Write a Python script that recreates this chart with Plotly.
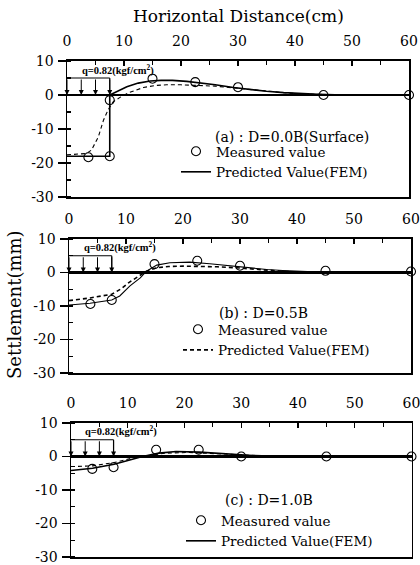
import plotly.graph_objects as go

# ---------------- data ----------------
x_ticks = [0, 10, 20, 30, 40, 50, 60]
x_tick_labels = ["0", "10", "20", "30", "40", "50", "60"]
y_ticks = [10, 0, -10, -20, -30]
y_tick_labels = ["10", "0", "-10", "-20", "-30"]

load_x = [0, 2.5, 5, 7.5]
load_top = 5
load_label = "q=0.82(kgf/cm<sup>2</sup>)"

# (a) D = 0.0B (Surface)
a_meas_x = [3.75, 7.5, 7.5, 15, 22.5, 30, 45, 60]
a_meas_y = [-18.3, -18.0, -1.5, 4.8, 3.8, 2.3, 0.0, 0.0]
a_fem_x = [0, 7.5, 7.5, 9, 10.5, 12.5, 14.6, 16.5, 18.5, 21, 23.3, 26, 29.2, 32, 35, 38, 41, 44, 47, 50, 55, 60]
a_fem_y = [-18, -18, 0, 1.3, 2.4, 3.5, 4.1, 4.3, 4.3, 4.0, 3.6, 3.0, 2.2, 1.6, 1.1, 0.7, 0.4, 0.2, 0.05, 0, 0, 0]
a_alt_x = [0, 3.4, 4.3, 5.5, 6.4, 7.2, 8.1, 9.3, 11, 13.4, 15.5, 17.5, 20, 23.3, 26, 29.2, 32, 35, 38, 41, 45, 50, 60]
a_alt_y = [-17.6, -17.2, -16.2, -12.3, -7.4, -4.4, -2.0, -0.7, 0.8, 2.2, 2.8, 3.0, 3.0, 2.9, 2.6, 2.1, 1.6, 1.2, 0.7, 0.3, 0.1, 0, 0]

# (b) D = 0.5B
b_meas_x = [3.75, 7.5, 15, 22.5, 30, 45, 60]
b_meas_y = [-9.4, -8.2, 2.5, 3.5, 2.0, 0.5, 0.3]
b_fem_x = [0, 3.7, 7.5, 9.2, 10.5, 11.8, 13.6, 15.4, 17.5, 20, 23, 26, 29.4, 32, 35, 38, 41, 45, 50, 60]
b_fem_y = [-8.4, -7.6, -6.5, -4.8, -3.0, -1.6, 0.4, 1.4, 1.8, 1.9, 1.9, 1.7, 1.4, 1.0, 0.6, 0.3, 0.1, 0, 0, 0]
b_alt_x = [0, 3.7, 7.5, 8.9, 10.7, 12.5, 13.6, 15.4, 17.7, 21.2, 24.7, 29.4, 32, 34.7, 37.5, 40.5, 44, 50, 60]
b_alt_y = [-9.7, -9.2, -8.2, -7.0, -4.0, -1.6, 0.4, 2.2, 2.9, 3.1, 2.6, 1.7, 1.2, 0.9, 0.6, 0.4, 0.1, 0, 0]

# (c) D = 1.0B
c_meas_x = [3.75, 7.5, 15, 22.5, 30, 45, 60]
c_meas_y = [-3.7, -3.2, 2.0, 2.0, 0.0, 0.0, 0.0]
c_fem_x = [0, 3.8, 7.6, 10.3, 12.6, 15.5, 18.5, 22.6, 25, 28.4, 32, 35, 40, 50, 60]
c_fem_y = [-4.2, -3.5, -2.3, -1.0, 0.0, 1.0, 1.5, 1.3, 1.0, 0.7, 0.3, 0.1, 0, 0, 0]
c_alt_x = [0, 3.8, 7.6, 10.8, 13.3, 16.7, 20.8, 26.6, 30, 35, 40, 60]
c_alt_y = [-3.0, -2.8, -1.8, -0.5, 0.2, 1.0, 1.2, 0.9, 0.5, 0.1, 0, 0]

captions = ["(a) : D=0.0B(Surface)", "(b) : D=0.5B", "(c) : D=1.0B"]
fem_dash = ["solid", "4px,3px", "solid"]
alt_dash = ["4px,3px", "solid", "4px,3px"]

# ---------------- layout geometry ----------------
W, H = 420, 565


def fx(px):
    return px / W


def fy(py):
    return (H - py) / H


x_px = [(67, 409), (69, 411), (71, 411.5)]
y_px = [(61, 197), (239, 373), (423, 557)]
x_domains = [[fx(l), fx(r)] for l, r in x_px]
y_domains = [[fy(b), fy(t)] for t, b in y_px]
legend_px = [(176, 136), (178, 314), (181, 505)]
caption_px = [(213, 137), (217, 313), (223, 500)]

SERIF = "DejaVu Serif"

panels = [
    (a_meas_x, a_meas_y, a_fem_x, a_fem_y, a_alt_x, a_alt_y),
    (b_meas_x, b_meas_y, b_fem_x, b_fem_y, b_alt_x, b_alt_y),
    (c_meas_x, c_meas_y, c_fem_x, c_fem_y, c_alt_x, c_alt_y),
]

fig = go.Figure()
annotations = []
shapes = []

for i, (mx, my, fxs, fys, ax_, ay_) in enumerate(panels):
    n = "" if i == 0 else str(i + 1)
    xr, yr = "x" + n, "y" + n
    leg = "legend" + n
    # alternate (unlabelled) curve
    fig.add_trace(go.Scatter(x=ax_, y=ay_, mode="lines", xaxis=xr, yaxis=yr,
                             line=dict(color="black", width=1.1, dash=alt_dash[i]),
                             showlegend=False, legend=leg, hoverinfo="skip"))
    # FEM prediction
    fig.add_trace(go.Scatter(x=fxs, y=fys, mode="lines", xaxis=xr, yaxis=yr,
                             line=dict(color="black", width=1.6, dash=fem_dash[i]),
                             name="Predicted Value(FEM)", legend=leg, showlegend=True))
    # measured values
    fig.add_trace(go.Scatter(x=mx, y=my, mode="markers", xaxis=xr, yaxis=yr,
                             marker=dict(symbol="circle-open", size=9, color="black",
                                         line=dict(width=1.1)),
                             cliponaxis=False, name="Measured value", legend=leg,
                             showlegend=True))

    fig.update_layout(**{
        "xaxis" + n: dict(domain=x_domains[i], anchor=yr, side="top", range=[0, 60],
                          tickvals=x_ticks, ticktext=x_tick_labels, ticks="inside",
                          ticklen=5, tickwidth=1.2, tickcolor="black",
                          minor=dict(dtick=5, ticks="inside", ticklen=4, tickcolor="black"),
                          showline=True, linewidth=2, linecolor="black", mirror=True,
                          showgrid=False, zeroline=False, ticklabelstandoff=7,
                          ticklabeloverflow="allow", automargin=False,
                          tickfont=dict(family=SERIF, size=14, color="black")),
        "yaxis" + n: dict(domain=y_domains[i], anchor=xr, range=[-30, 10],
                          tickvals=y_ticks, ticktext=y_tick_labels, ticks="outside",
                          ticklen=8, tickwidth=1.2, tickcolor="black",
                          minor=dict(dtick=5, ticks="inside", ticklen=4, tickcolor="black"),
                          showline=True, linewidth=1.5, linecolor="black", mirror=True,
                          showgrid=False, zeroline=True, zerolinewidth=2.5,
                          zerolinecolor="black", ticklabelstandoff=1,
                          ticklabeloverflow="allow", automargin=False,
                          tickfont=dict(family=SERIF, size=14, color="black")),
        leg: dict(x=fx(legend_px[i][0]), y=fy(legend_px[i][1]), xanchor="left",
                  yanchor="top", xref="paper", yref="paper", bgcolor="rgba(0,0,0,0)",
                  font=dict(family=SERIF, size=13.5, color="black"),
                  traceorder="reversed", tracegroupgap=0, itemwidth=30),
    })

    # loading diagram
    shapes.append(dict(type="line", xref=xr, yref=yr, x0=load_x[0], x1=load_x[-1],
                       y0=load_top, y1=load_top, line=dict(color="black", width=1.2)))
    shapes.append(dict(type="line", xref=xr, yref=yr, x0=load_x[-1], x1=load_x[-1],
                       y0=load_top, y1=0, line=dict(color="black", width=1.2)))
    for lx in load_x:
        annotations.append(dict(x=lx, y=0, ax=lx, ay=load_top, xref=xr, yref=yr,
                                axref=xr, ayref=yr, showarrow=True, arrowhead=2,
                                arrowsize=1, arrowwidth=1, arrowcolor="black", text=""))
    annotations.append(dict(x=2.2, y=7.5, xref=xr, yref=yr, xanchor="left",
                            yanchor="middle", showarrow=False, text="<b>" + load_label + "</b>",
                            font=dict(family="Liberation Serif", size=10.5, color="black")))
    # caption
    cx, cy = caption_px[i]
    annotations.append(dict(x=fx(cx), y=fy(cy), xref="paper", yref="paper",
                            xanchor="left", yanchor="middle", showarrow=False,
                            text=captions[i],
                            font=dict(family=SERIF, size=14, color="black")))

annotations.append(dict(x=fx(238), y=fy(16), xref="paper", yref="paper",
                        xanchor="center", yanchor="middle",
                        showarrow=False, text="Horizontal Distance(cm)",
                        font=dict(family=SERIF, size=17, color="black")))
annotations.append(dict(x=fx(14), y=fy(305), xref="paper", yref="paper",
                        xanchor="center", yanchor="middle",
                        showarrow=False, text="Settlement(mm)", textangle=-90,
                        font=dict(family=SERIF, size=18, color="black")))

fig.update_layout(width=W, height=H, margin=dict(l=0, r=0, t=0, b=0, autoexpand=False),
                  paper_bgcolor="white", plot_bgcolor="white",
                  annotations=annotations, shapes=shapes, hovermode=False)

# remove the browser's default 8px page margin so the 420x565 figure fills the window
fig.write_html("out.html", config={"displayModeBar": False, "staticPlot": True},
               post_script="document.body.style.margin='0';document.body.style.overflow='hidden';")
